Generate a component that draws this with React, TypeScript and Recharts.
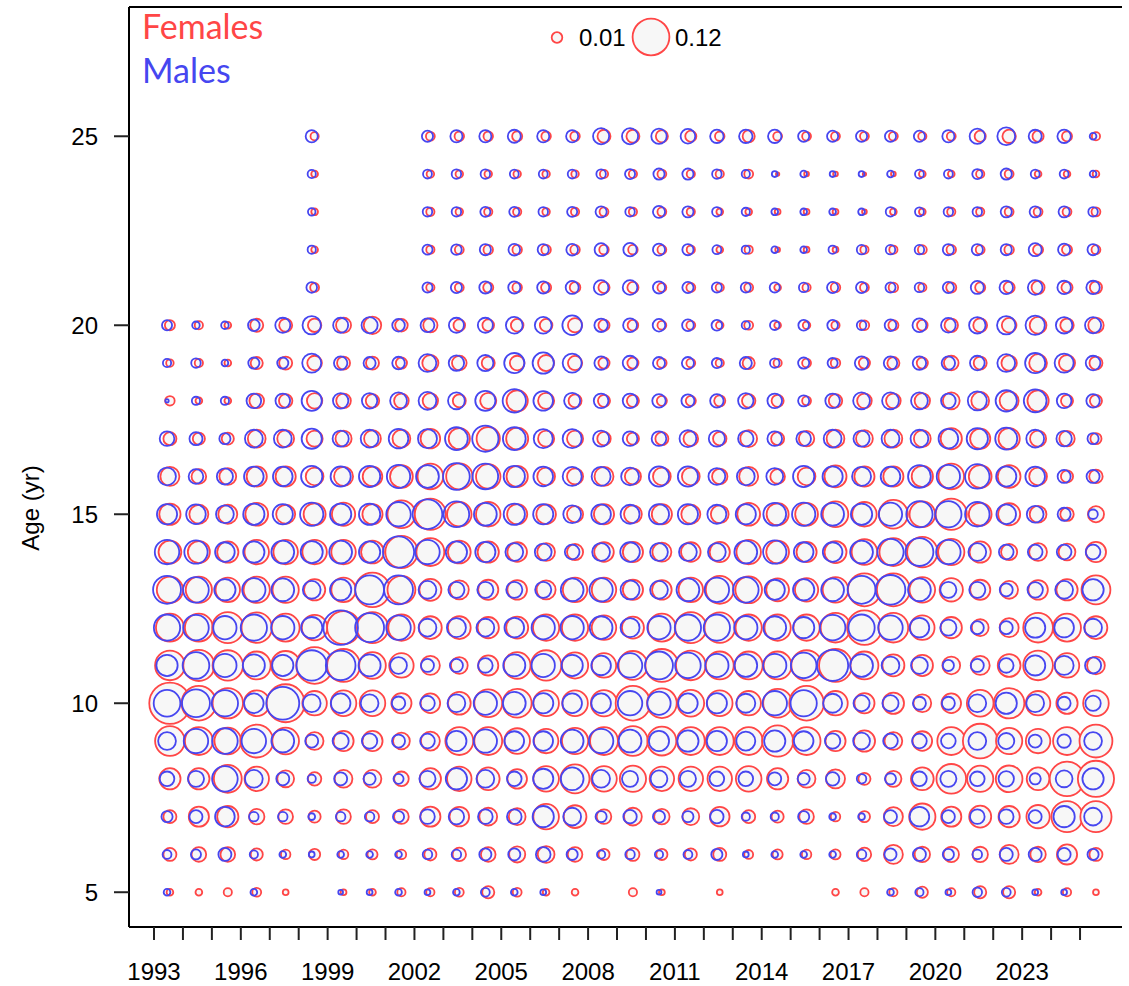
import React from 'react';
import { ScatterChart, Scatter, XAxis, YAxis, ReferenceLine } from 'recharts';

// ---- data (proportions at age) ----
const years = [1993,1994,1995,1996,1997,1998,1999,2000,2001,2002,2003,2004,2005,2006,2007,2008,2009,2010,2011,2012,2013,2014,2015,2016,2017,2018,2019,2020,2021,2022,2023,2024,2025];
const ages = [5,6,7,8,9,10,11,12,13,14,15,16,17,18,19,20,21,22,23,24,25];
const yTicks = [5,10,15,20,25];
const legendValues = [0.01, 0.12];
const n = null;

const F25 = [n,n,n,n,n,0.006,n,n,n,0.007,0.008,0.008,0.009,0.008,0.008,0.015,0.015,0.013,0.011,0.008,0.013,0.007,0.007,0.007,0.007,0.007,0.006,0.007,0.011,0.016,0.011,0.009,0.006];
const M25 = [n,n,n,n,n,0.013,n,n,n,0.011,0.013,0.013,0.015,0.013,0.013,0.023,0.023,0.021,0.019,0.016,0.016,0.016,0.011,0.011,0.011,0.011,0.011,0.013,0.021,0.028,0.015,0.016,0.004];
const F24 = [n,n,n,n,n,0.004,n,n,n,0.005,0.005,0.005,0.005,0.005,0.005,0.006,0.006,0.007,0.006,0.006,0.007,0.001,0.002,0.002,0.001,0.002,0.004,0.004,0.006,0.007,0.004,0.004,0.004];
const M24 = [n,n,n,n,n,0.006,n,n,n,0.007,0.008,0.008,0.007,0.007,0.007,0.008,0.009,0.011,0.011,0.008,0.006,0.003,0.004,0.003,0.003,0.004,0.007,0.007,0.009,0.011,0.007,0.007,0.004];
const F23 = [n,n,n,n,n,0.004,n,n,n,0.006,0.005,0.006,0.006,0.005,0.006,0.007,0.006,0.007,0.006,0.004,0.004,0.003,0.003,0.003,0.002,0.004,0.004,0.006,0.006,0.007,0.007,0.007,0.007];
const M23 = [n,n,n,n,n,0.005,n,n,n,0.008,0.008,0.009,0.009,0.008,0.009,0.011,0.008,0.013,0.011,0.008,0.006,0.004,0.004,0.004,0.004,0.008,0.007,0.008,0.008,0.011,0.011,0.011,0.008];
const F22 = [n,n,n,n,n,0.004,n,n,n,0.006,0.007,0.008,0.008,0.008,0.008,0.008,0.008,0.007,0.006,0.004,0.006,0.002,0.003,0.003,0.006,0.006,0.007,0.008,0.007,0.008,0.009,0.009,0.007];
const M22 = [n,n,n,n,n,0.006,n,n,n,0.009,0.010,0.011,0.012,0.011,0.012,0.015,0.016,0.013,0.011,0.007,0.006,0.004,0.004,0.006,0.008,0.008,0.008,0.011,0.011,0.011,0.015,0.013,0.011];
const F21 = [n,n,n,n,n,0.007,n,n,n,0.006,0.007,0.009,0.008,0.009,0.010,0.011,0.011,0.007,0.007,0.006,0.007,0.004,0.006,0.008,0.007,0.008,0.006,0.009,0.009,0.011,0.015,0.011,0.013];
const M21 = [n,n,n,n,n,0.010,n,n,n,0.009,0.011,0.013,0.013,0.013,0.015,0.019,0.019,0.013,0.011,0.009,0.009,0.009,0.008,0.011,0.011,0.009,0.008,0.011,0.015,0.016,0.019,0.016,0.016];
const F20 = [0.009,0.006,0.004,0.015,0.015,0.016,0.020,0.027,0.014,0.018,0.012,0.012,0.014,0.014,0.018,0.011,0.010,0.007,0.007,0.005,0.007,0.004,0.005,0.006,0.008,0.009,0.010,0.016,0.017,0.019,0.025,0.016,0.021];
const M20 = [0.009,0.005,0.005,0.012,0.020,0.030,0.020,0.023,0.014,0.017,0.020,0.020,0.025,0.025,0.034,0.016,0.017,0.014,0.012,0.010,0.006,0.008,0.010,0.010,0.008,0.012,0.017,0.019,0.024,0.030,0.033,0.024,0.023];
const F19 = [0.005,0.006,0.004,0.013,0.015,0.019,0.015,0.015,0.011,0.023,0.019,0.015,0.019,0.023,0.018,0.011,0.011,0.008,0.007,0.006,0.013,0.006,0.007,0.008,0.011,0.013,0.011,0.019,0.015,0.021,0.028,0.023,0.015];
const M19 = [0.006,0.008,0.004,0.011,0.011,0.032,0.016,0.013,0.014,0.028,0.021,0.023,0.036,0.040,0.032,0.016,0.019,0.013,0.013,0.009,0.013,0.008,0.011,0.009,0.016,0.016,0.016,0.016,0.019,0.028,0.036,0.032,0.019];
const F18 = [0.008,0.004,0.004,0.019,0.016,0.021,0.019,0.016,0.019,0.021,0.015,0.023,0.040,0.023,0.015,0.013,0.013,0.009,0.009,0.011,0.016,0.013,0.007,0.016,0.019,0.019,0.021,0.025,0.028,0.032,0.040,0.013,0.013];
const M18 = [0.001,0.006,0.006,0.019,0.019,0.036,0.021,0.021,0.025,0.028,0.025,0.036,0.048,0.034,0.023,0.019,0.019,0.016,0.015,0.016,0.021,0.019,0.011,0.019,0.025,0.025,0.025,0.019,0.032,0.040,0.046,0.019,0.016];
const F17 = [0.015,0.013,0.013,0.028,0.025,0.023,0.023,0.025,0.028,0.034,0.040,0.048,0.043,0.023,0.023,0.016,0.013,0.015,0.019,0.016,0.025,0.015,0.021,0.028,0.025,0.028,0.025,0.040,0.036,0.040,0.023,0.021,0.011];
const M17 = [0.019,0.015,0.011,0.028,0.028,0.036,0.023,0.028,0.034,0.032,0.046,0.061,0.046,0.032,0.032,0.023,0.019,0.019,0.025,0.023,0.021,0.019,0.019,0.028,0.023,0.028,0.028,0.034,0.040,0.043,0.028,0.021,0.011];
const F16 = [0.032,0.019,0.025,0.036,0.036,0.028,0.032,0.034,0.046,0.058,0.061,0.053,0.040,0.028,0.023,0.032,0.023,0.028,0.028,0.021,0.032,0.019,0.028,0.043,0.036,0.036,0.040,0.058,0.046,0.046,0.028,0.013,0.016];
const M16 = [0.028,0.019,0.023,0.034,0.034,0.040,0.036,0.040,0.048,0.046,0.063,0.058,0.040,0.034,0.032,0.032,0.028,0.036,0.036,0.025,0.028,0.025,0.040,0.036,0.032,0.034,0.046,0.048,0.053,0.036,0.034,0.015,0.015];
const F15 = [0.040,0.032,0.032,0.046,0.032,0.043,0.048,0.036,0.069,0.086,0.053,0.053,0.036,0.034,0.023,0.036,0.028,0.036,0.032,0.028,0.046,0.043,0.046,0.058,0.053,0.074,0.058,0.086,0.046,0.043,0.025,0.016,0.023];
const M15 = [0.036,0.034,0.028,0.040,0.036,0.048,0.040,0.040,0.053,0.078,0.058,0.046,0.040,0.036,0.028,0.034,0.032,0.036,0.036,0.032,0.036,0.046,0.048,0.046,0.040,0.048,0.061,0.061,0.053,0.034,0.025,0.015,0.008];
const F14 = [0.046,0.043,0.040,0.053,0.053,0.053,0.053,0.046,0.092,0.069,0.046,0.040,0.034,0.028,0.023,0.034,0.036,0.032,0.034,0.036,0.053,0.046,0.036,0.043,0.058,0.069,0.082,0.061,0.040,0.023,0.028,0.025,0.036];
const M14 = [0.053,0.048,0.034,0.040,0.046,0.043,0.046,0.040,0.086,0.053,0.040,0.036,0.028,0.025,0.019,0.028,0.034,0.028,0.028,0.028,0.046,0.048,0.034,0.034,0.046,0.061,0.069,0.053,0.028,0.019,0.019,0.019,0.019];
const F13 = [0.061,0.061,0.053,0.061,0.061,0.040,0.053,0.106,0.069,0.043,0.032,0.036,0.034,0.032,0.053,0.053,0.036,0.034,0.053,0.069,0.063,0.046,0.048,0.058,0.096,0.096,0.058,0.048,0.036,0.028,0.034,0.040,0.074];
const M13 = [0.069,0.058,0.040,0.048,0.046,0.028,0.040,0.074,0.074,0.028,0.023,0.023,0.023,0.023,0.046,0.048,0.032,0.028,0.046,0.053,0.058,0.036,0.040,0.046,0.069,0.078,0.046,0.023,0.023,0.015,0.021,0.028,0.040];
const F12 = [0.069,0.069,0.086,0.082,0.069,0.058,0.096,0.086,0.061,0.046,0.046,0.040,0.043,0.061,0.061,0.053,0.043,0.069,0.086,0.082,0.061,0.061,0.061,0.078,0.106,0.078,0.053,0.040,0.025,0.032,0.078,0.069,0.046];
const M12 = [0.061,0.058,0.048,0.061,0.048,0.040,0.106,0.074,0.053,0.028,0.032,0.028,0.034,0.048,0.048,0.046,0.032,0.048,0.061,0.061,0.048,0.046,0.040,0.058,0.061,0.053,0.034,0.023,0.015,0.015,0.036,0.034,0.028];
const F11 = [0.078,0.086,0.082,0.069,0.074,0.120,0.096,0.063,0.053,0.032,0.025,0.036,0.063,0.082,0.061,0.053,0.074,0.096,0.078,0.069,0.069,0.069,0.082,0.096,0.069,0.043,0.040,0.028,0.032,0.046,0.078,0.053,0.028];
const M11 = [0.040,0.063,0.048,0.043,0.040,0.082,0.078,0.043,0.025,0.015,0.015,0.019,0.043,0.048,0.040,0.034,0.053,0.069,0.058,0.048,0.046,0.048,0.058,0.086,0.046,0.028,0.025,0.011,0.015,0.019,0.036,0.032,0.023];
const F10 = [0.151,0.106,0.082,0.058,0.128,0.053,0.058,0.058,0.036,0.034,0.046,0.069,0.074,0.058,0.058,0.061,0.106,0.078,0.063,0.058,0.053,0.074,0.106,0.053,0.036,0.040,0.028,0.034,0.063,0.082,0.053,0.040,0.058];
const M10 = [0.063,0.069,0.061,0.034,0.096,0.028,0.034,0.028,0.016,0.019,0.028,0.048,0.046,0.036,0.034,0.034,0.053,0.048,0.034,0.036,0.032,0.053,0.061,0.032,0.023,0.023,0.015,0.015,0.028,0.040,0.028,0.015,0.021];
const F9 = [0.078,0.069,0.063,0.096,0.063,0.028,0.036,0.036,0.025,0.032,0.069,0.069,0.058,0.053,0.061,0.069,0.078,0.074,0.069,0.069,0.069,0.086,0.069,0.036,0.040,0.028,0.034,0.069,0.106,0.061,0.053,0.069,0.096];
const M9 = [0.028,0.053,0.058,0.053,0.046,0.015,0.023,0.021,0.015,0.019,0.036,0.048,0.034,0.034,0.046,0.053,0.046,0.036,0.040,0.036,0.032,0.040,0.034,0.021,0.025,0.019,0.019,0.019,0.028,0.023,0.015,0.016,0.028];
const F8 = [0.040,0.040,0.069,0.053,0.025,0.016,0.028,0.028,0.019,0.040,0.053,0.046,0.034,0.058,0.074,0.058,0.061,0.053,0.053,0.053,0.058,0.040,0.028,0.032,0.013,0.023,0.046,0.078,0.061,0.063,0.046,0.106,0.116];
const M8 = [0.019,0.023,0.058,0.028,0.015,0.006,0.015,0.013,0.009,0.023,0.040,0.028,0.019,0.036,0.046,0.028,0.023,0.025,0.023,0.019,0.019,0.015,0.013,0.016,0.008,0.011,0.019,0.023,0.019,0.021,0.011,0.025,0.040];
const F7 = [0.015,0.036,0.040,0.021,0.019,0.013,0.019,0.015,0.019,0.036,0.034,0.028,0.025,0.058,0.046,0.019,0.028,0.021,0.025,0.034,0.015,0.013,0.019,0.008,0.011,0.032,0.061,0.036,0.043,0.040,0.048,0.086,0.086];
const M7 = [0.011,0.015,0.034,0.008,0.008,0.004,0.008,0.008,0.011,0.019,0.021,0.019,0.019,0.040,0.028,0.011,0.016,0.013,0.011,0.016,0.006,0.006,0.011,0.004,0.004,0.015,0.034,0.015,0.019,0.019,0.015,0.040,0.028];
const F6 = [0.015,0.019,0.019,0.013,0.008,0.011,0.008,0.009,0.008,0.013,0.016,0.019,0.023,0.025,0.019,0.011,0.015,0.011,0.013,0.015,0.007,0.009,0.008,0.009,0.016,0.032,0.021,0.021,0.021,0.032,0.021,0.036,0.015];
const M6 = [0.007,0.009,0.015,0.006,0.004,0.003,0.004,0.004,0.004,0.008,0.008,0.013,0.013,0.019,0.011,0.006,0.008,0.006,0.007,0.011,0.003,0.004,0.004,0.004,0.008,0.013,0.015,0.011,0.008,0.015,0.015,0.015,0.011];
const F5 = [0.004,0.004,0.006,0.007,0.003,n,0.003,0.004,0.006,0.006,0.007,0.013,0.007,0.004,0.004,n,0.006,0.003,n,0.003,n,n,n,0.004,0.006,0.006,0.011,0.006,0.013,0.013,0.004,0.006,0.003];
const M5 = [0.004,n,n,0.004,n,n,0.002,0.003,0.004,0.003,0.004,0.007,0.004,0.003,n,n,n,0.002,n,n,n,n,n,n,n,0.004,0.006,0.003,0.008,0.007,0.003,0.003,n];

const femaleRows = [F5,F6,F7,F8,F9,F10,F11,F12,F13,F14,F15,F16,F17,F18,F19,F20,F21,F22,F23,F24,F25];
const maleRows = [M5,M6,M7,M8,M9,M10,M11,M12,M13,M14,M15,M16,M17,M18,M19,M20,M21,M22,M23,M24,M25];

// ---- styling / layout ----
const RED = '#ff4646';
const BLUE = '#4646f0';
const FILL = '#f7f7f7';
const FONT = '"Liberation Sans", Arial, sans-serif';
const R_REF = 18.4; // radius of a 0.12 bubble
const radius = (p: number) => R_REF * Math.sqrt(p / 0.12);

const buildRows = (rows: (number | null)[][], shift: number) => {
  const out: { x: number; y: number; p: number }[] = [];
  rows.forEach((row, ai) => {
    row.forEach((v, yi) => {
      if (v != null) out.push({ x: years[yi] + shift, y: ages[ai], p: v });
    });
  });
  return out;
};
const femaleData = buildRows(femaleRows, 0.55);
const maleData = buildRows(maleRows, 0.45);

const makeShape = (stroke: string, fill: string) => (props: any) => {
  const { cx, cy, payload } = props;
  if (cx == null || cy == null) return <g />;
  return <circle cx={cx} cy={cy} r={radius(payload.p)} stroke={stroke} strokeWidth={1.8} fill={fill} />;
};

const X_MIN = 1992.136;
const X_MAX = 2026.45;
const Y_MIN = 4.08;
const Y_MAX = 28.42;

export default function App() {
  return (
    <div style={{ position: 'absolute', left: 0, top: 0, width: 1129, height: 986, overflow: 'hidden', background: '#fff' }}>
      <ScatterChart width={1129} height={986} margin={{ top: 7, right: 7, bottom: 0, left: 0 }}>
        <XAxis
          type="number"
          dataKey="x"
          domain={[X_MIN, X_MAX]}
          allowDataOverflow
          ticks={years}
          interval={0}
          tickFormatter={(v: number) => ((v - 1993) % 3 === 0 ? String(v) : '')}
          height={59}
          tickSize={13}
          tickMargin={23}
          axisLine={{ stroke: '#000', strokeWidth: 2 }}
          tickLine={{ stroke: '#222', strokeWidth: 2 }}
          tick={{ fill: '#000', fontSize: 24, fontFamily: FONT }}
        />
        <YAxis
          type="number"
          dataKey="y"
          domain={[Y_MIN, Y_MAX]}
          allowDataOverflow
          ticks={yTicks}
          interval={0}
          width={129}
          tickSize={15}
          tickMargin={16}
          axisLine={{ stroke: '#000', strokeWidth: 2 }}
          tickLine={{ stroke: '#222', strokeWidth: 2 }}
          tick={{ fill: '#000', fontSize: 24, fontFamily: FONT }}
        />
        <ReferenceLine y={Y_MAX} stroke="#000" strokeWidth={2} ifOverflow="extendDomain" />
        <Scatter data={femaleData} isAnimationActive={false} shape={makeShape(RED, FILL)} />
        <Scatter data={maleData} isAnimationActive={false} shape={makeShape(BLUE, 'none')} />
      </ScatterChart>
      <svg width={1129} height={986} style={{ position: 'absolute', left: 0, top: 0, pointerEvents: 'none' }}>
        <text x={142} y={39} fill={RED} fontSize={34} fontFamily="Lato, sans-serif">Females</text>
        <text x={142} y={83} fill={BLUE} fontSize={34} fontFamily="Lato, sans-serif">Males</text>
        <text x={30} y={508} transform="rotate(-90 30 508)" textAnchor="middle" dominantBaseline="central" fontSize={24} fontFamily={FONT} fill="#000">Age (yr)</text>
        <circle cx={557} cy={37.5} r={radius(legendValues[0])} stroke={RED} strokeWidth={1.8} fill={FILL} />
        <text x={579} y={46} fontSize={24} fontFamily={FONT} fill="#000">{String(legendValues[0])}</text>
        <circle cx={651} cy={37} r={radius(legendValues[1])} stroke={RED} strokeWidth={1.8} fill={FILL} />
        <text x={675} y={46} fontSize={24} fontFamily={FONT} fill="#000">{String(legendValues[1])}</text>
      </svg>
    </div>
  );
}
